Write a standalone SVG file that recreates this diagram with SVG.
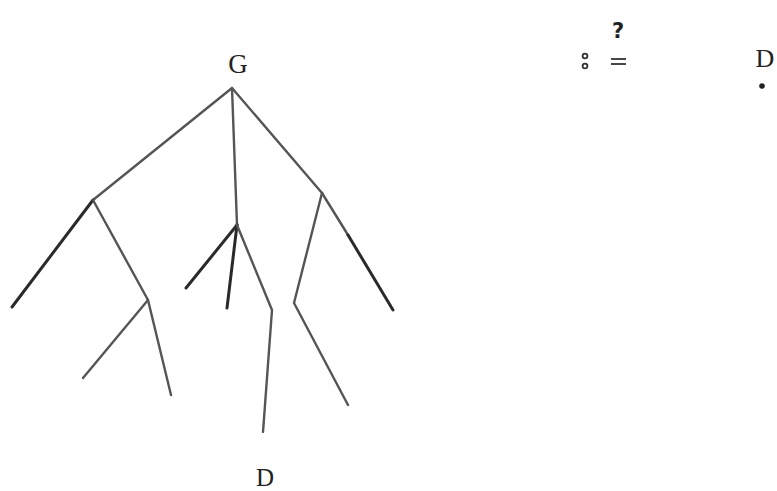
<svg xmlns="http://www.w3.org/2000/svg" width="777" height="491" viewBox="0 0 777 491">
<style>
.e{stroke:#555;stroke-width:2.4;fill:none;stroke-linecap:round;stroke-linejoin:round}
.d{stroke:#2a2a2a;stroke-width:3}
.t{font-family:"Liberation Serif",serif;fill:#222}
.s{font-family:"DejaVu Sans",sans-serif;fill:#222;font-weight:bold}
</style>
<rect width="777" height="491" fill="#fff"/>
<g id="label-G"><text class="t" x="238" y="73" font-size="27" text-anchor="middle">G</text></g>
<g id="label-D-bottom"><text class="t" x="265" y="486" font-size="25" text-anchor="middle">D</text></g>
<g id="formula">
<text class="s" x="618" y="38" font-size="21" text-anchor="middle">?</text>
<circle cx="585" cy="56" r="2.4" fill="none" stroke="#333" stroke-width="1.8"/>
<circle cx="585" cy="66" r="2.4" fill="none" stroke="#333" stroke-width="1.8"/>
<line x1="611" y1="59" x2="626" y2="59" stroke="#333" stroke-width="1.8"/>
<line x1="611" y1="64" x2="626" y2="64" stroke="#333" stroke-width="1.8"/>
<text class="t" x="765" y="67" font-size="26" text-anchor="middle">D</text>
<circle cx="762" cy="86" r="2.8" fill="#222"/>
</g>
<g id="connectors">
<polyline class="e" points="93,200 232,88 322,193"/>
<polyline class="e" points="232,88 237,225"/>
<polyline class="e d" points="93,200 12,307"/>
<polyline class="e" points="93,200 148,300 171,395"/>
<polyline class="e" points="148,300 83,378"/>
<polyline class="e d" points="237,225 186,288"/>
<polyline class="e d" points="237,225 227,308"/>
<polyline class="e" points="237,225 272,310 263,432"/>
<polyline class="e" points="322,193 294,303 348,405"/>
<polyline class="e" points="322,193 348,235"/>
<polyline class="e d" points="348,235 393,310"/>
</g>
</svg>
